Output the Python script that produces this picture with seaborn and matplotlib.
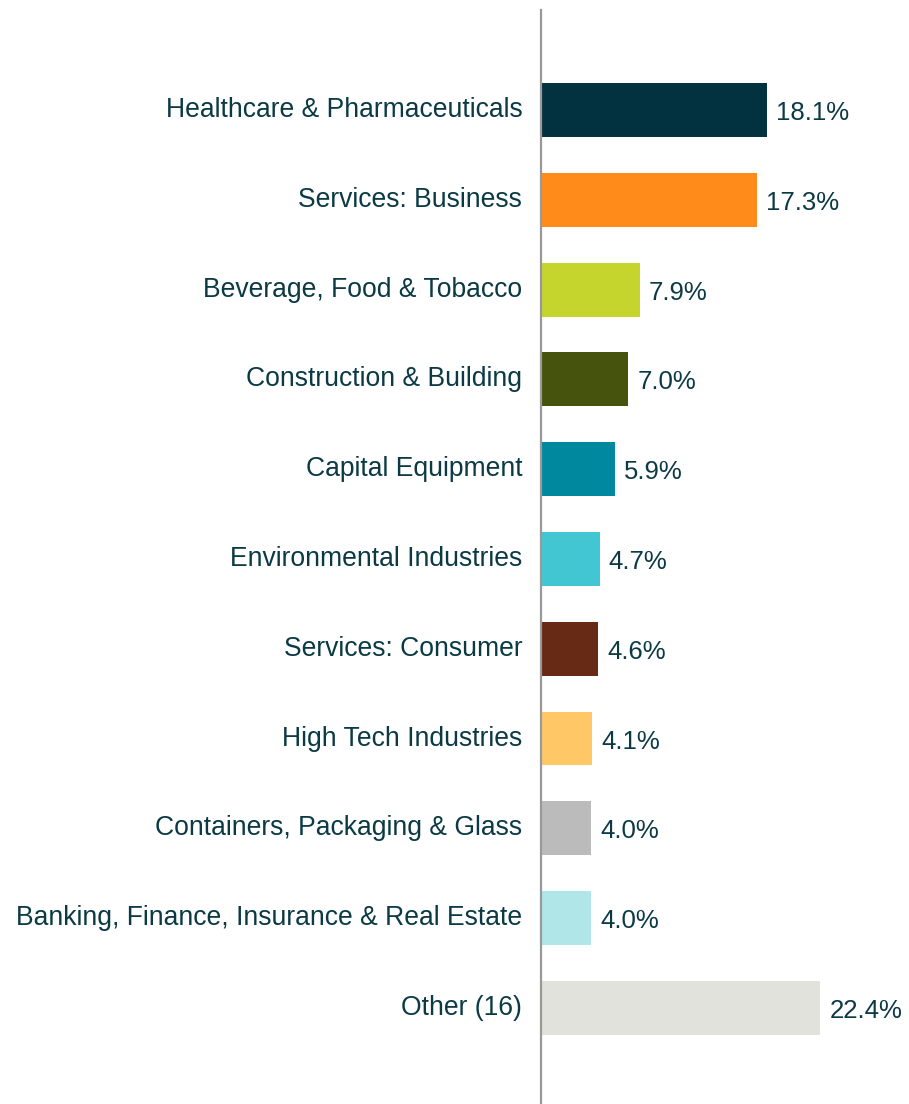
import matplotlib
matplotlib.use("Agg")
import matplotlib.pyplot as plt
import matplotlib.transforms as mtransforms
import seaborn as sns
import pandas as pd

categories = [
    "Healthcare & Pharmaceuticals",
    "Services: Business",
    "Beverage, Food & Tobacco",
    "Construction & Building",
    "Capital Equipment",
    "Environmental Industries",
    "Services: Consumer",
    "High Tech Industries",
    "Containers, Packaging & Glass",
    "Banking, Finance, Insurance & Real Estate",
    "Other (16)",
]
values = [18.1, 17.3, 7.9, 7.0, 5.9, 4.7, 4.6, 4.1, 4.0, 4.0, 22.4]
colors = [
    "#02323f", "#ff8c1a", "#c5d52e", "#46530d", "#00889e", "#42c6d1",
    "#672a14", "#ffc766", "#bbbbbb", "#b1e6e8", "#e1e2dc",
]

sns.set_theme(style="white")
plt.rcParams["font.family"] = ["Liberation Sans", "DejaVu Sans"]
text_color = "#0b3a45"

df = pd.DataFrame({"category": categories, "value": values})

fig = plt.figure(figsize=(9.09, 11.04), dpi=100)
ax = fig.add_axes([541 / 909, 0.0, 1 - 541 / 909, 1 - 10 / 1104])

sns.barplot(data=df, x="value", y="category", hue="category",
            palette=colors, legend=False, width=0.6, ax=ax,
            saturation=1, order=categories, hue_order=categories,
            linewidth=0)

ax.set_xlim(0, 29.5)
ax.set_ylim(11.07, -1.114)
ax.set_xlabel("")
ax.set_ylabel("")
ax.set_xticks([])
for s in ["top", "right", "bottom"]:
    ax.spines[s].set_visible(False)
ax.spines["left"].set_color("#999999")
ax.spines["left"].set_linewidth(1.6)
ax.tick_params(axis="y", length=0, pad=13.5, labelsize=19.1, labelcolor=text_color)

offset = mtransforms.ScaledTranslation(0, 3 / 100, fig.dpi_scale_trans)
for lbl in ax.get_yticklabels():
    lbl.set_transform(lbl.get_transform() + offset)

for cont in ax.containers:
    texts = ax.bar_label(cont, labels=[f"{v:.1f}%" for v in cont.datavalues],
                         padding=6.5, fontsize=18.5, color=text_color)
    for t in texts:
        t.set_va("center")
        t.xyann = (6.5, -2.2)

fig.savefig("out.png", dpi=100, facecolor="white")
